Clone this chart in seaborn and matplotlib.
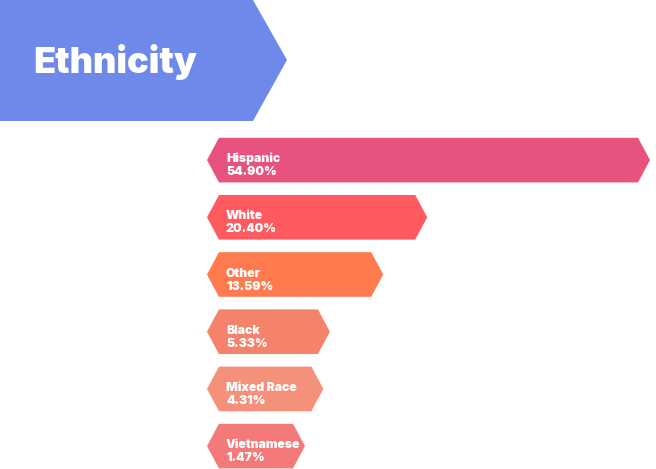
import matplotlib
matplotlib.use("Agg")
import matplotlib.pyplot as plt
from matplotlib.patches import Polygon
import seaborn as sns

# Adatok
groups = ["Hispanic", "White", "Other", "Black", "Mixed Race", "Vietnamese"]
shares = [54.90, 20.40, 13.59, 5.33, 4.31, 1.47]
colors = ["#E8527F", "#FF5A5F", "#FF7B4F", "#F5826B", "#F5907A", "#F47A7A"]
title = "Ethnicity"

# Beállítások
sns.set_theme(style="white")
plt.rcParams["font.family"] = ["Inter", "DejaVu Sans"]

W, H = 656, 469
fig = plt.figure(figsize=(W / 100, H / 100), dpi=100)
fig.patch.set_facecolor("white")

# Fejléc nyíl
banner = Polygon([(0, 1), (253 / W, 1), (287 / W, 1 - 60 / H), (253 / W, 1 - 121 / H), (0, 1 - 121 / H)],
                 closed=True, transform=fig.transFigure, facecolor="#6E89EA", edgecolor="none")
fig.patches.append(banner)
fig.text(33 / W, 1 - 73 / H, title, color="white", fontsize=26, fontweight="black", va="baseline", ha="left")

# Hatszög alakú sávok
lead = 13.7   # minimális sávhossz (adategység)
tip = 1.85    # hegy mélysége
bar_h = 0.78
ax = fig.add_axes([207 / W, 0, 443 / W, 337.5 / H])
for i, (g, v, c) in enumerate(zip(groups, shares, colors)):
    x0, x1 = -lead, v
    y0, y1 = i - bar_h / 2, i + bar_h / 2
    pts = [(x0, i), (x0 + tip, y0), (x1 - tip, y0), (x1, i), (x1 - tip, y1), (x0 + tip, y1)]
    ax.add_patch(Polygon(pts, closed=True, facecolor=c, edgecolor="none"))
    ax.text(x0 + tip + 1.1, i + 0.035, g, color="white", fontsize=8.8, fontweight="black", va="baseline", ha="left")
    ax.text(x0 + tip + 1.1, i + 0.263, f"{v:.2f}%", color="white", fontsize=8.8, fontweight="black", va="baseline", ha="left")

ax.set_xlim(-lead, max(shares))
ax.set_ylim(-0.5 + 337.5 / 57.2, -0.5)
ax.axis("off")

fig.savefig("out.png", dpi=100)
plt.close()
